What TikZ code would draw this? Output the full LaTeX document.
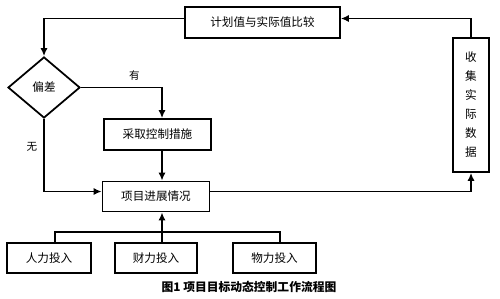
\documentclass[tikz,border=0pt]{standalone}
\usepackage{fontspec}
\newfontfamily\cjk{Noto Sans CJK SC}
\usetikzlibrary{positioning, arrows.meta, shapes.geometric, calc}

\begin{document}
\begin{tikzpicture}[x=0.02cm, y=-0.02cm, line width=1pt,
        >={Latex[length=4.5pt,width=4pt]},
        box/.style={draw, inner sep=0pt, font=\cjk\fontsize{6.6}{8}\selectfont},
        lbl/.style={font=\cjk\fontsize{6}{7}\selectfont}]
        % Page frame
        \useasboundingbox (0,0) rectangle (500,298);

        % Comparison box on top
        \node[box, minimum width=3.1cm, minimum height=0.62cm] (cmp) at (262.5,22.5) {计划值与实际值比较};

        % Deviation check
        \node[box, diamond, minimum width=1.44cm, minimum height=1.22cm] (dev) at (44,87.5) {偏差};

        % Corrective action and progress
        \node[box, minimum width=2.14cm, minimum height=0.62cm] (act) at (157.5,134.5) {采取控制措施};
        \node[box, minimum width=2.14cm, minimum height=0.6cm] (prog) at (156,196.5) {项目进展情况};

        % Collect actual data, vertical text
        \node[box, minimum width=0.72cm, minimum height=2.68cm, align=center,
              font=\cjk\fontsize{6.6}{10.8}\selectfont] (col) at (471,105)
              {收\\集\\实\\际\\数\\据};

        % Inputs
        \node[box, minimum width=1.68cm, minimum height=0.6cm] (man) at (49,258) {人力投入};
        \node[box, minimum width=1.64cm, minimum height=0.6cm] (fin) at (156,258) {财力投入};
        \node[box, minimum width=1.66cm, minimum height=0.6cm] (mat) at (274.5,258) {物力投入};

        % Loop connectors
        \draw[->] ([yshift=0.08cm]cmp.west) -| (dev.north);
        \draw[->] (dev.east) -| ([xshift=0.09cm]act.north)
            node[lbl, pos=0.33, above] {有};
        \draw[->] ([xshift=0.09cm]act.south) -- ([xshift=0.12cm]prog.north);
        \draw[->] (dev.south) |- ([yshift=0.1cm]prog.west)
            node[lbl, pos=0.19, left] {无};
        \draw[->] ([yshift=0.1cm]prog.east) -| (col.south);
        \draw[->] (col.north) |- ([yshift=0.08cm]cmp.east);

        % Inputs bus
        \coordinate (bus) at (162,232);
        \draw ([xshift=0.12cm]man.north) |- (bus) -| ([xshift=0.11cm]mat.north);
        \draw[->] ([xshift=0.12cm]fin.north) -- ([xshift=0.12cm]prog.south);

        % Caption
        \node[font=\cjk\bfseries\fontsize{6.7}{8}\selectfont] (cap) at (249,287) {图1\ 项目目标动态控制工作流程图};
\end{tikzpicture}
\end{document}
